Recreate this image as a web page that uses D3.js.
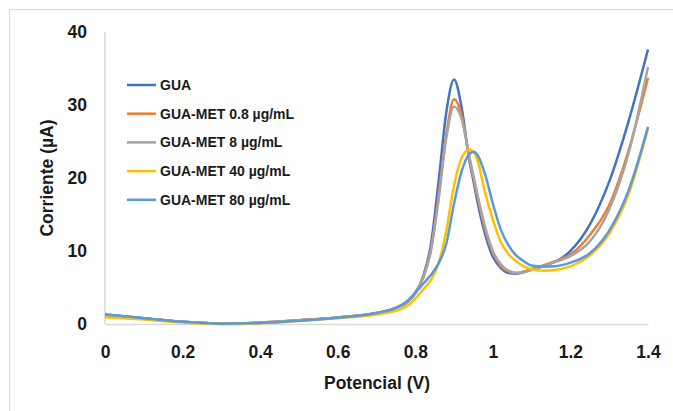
<!DOCTYPE html>
<html>
<head>
<meta charset="utf-8">
<script src="https://cdn.jsdelivr.net/npm/d3@7"></script>
<style>
  body { margin: 0; background: #fff; }
  text { font-family: "Liberation Sans", Arial, sans-serif; font-weight: bold; fill: #1a1a1a; }
</style>
</head>
<body>
<div id="container"></div>
<script>
var width = 673,
    height = 411;

// potential (V)
var potential = [0, 0.1, 0.2, 0.3, 0.4, 0.5, 0.6, 0.7, 0.75, 0.78, 0.8, 0.82, 0.84, 0.86, 0.88, 0.9,
  0.92, 0.94, 0.95, 0.96, 0.98, 1.0, 1.02, 1.04, 1.06, 1.08, 1.1, 1.13, 1.16, 1.2, 1.25, 1.3, 1.35, 1.4];

// current (uA) per series
var gua = [1.3, 0.8, 0.3, 0.05, 0.15, 0.5, 0.9, 1.5, 2.2, 3.0, 4.2, 6.5, 10.8, 19.5, 29.0, 33.5,
  29.5, 22.2, 19.6, 16.8, 12.3, 9.2, 7.7, 7.0, 6.9, 7.1, 7.5, 8.0, 8.5, 10.0, 13.6, 19.5, 27.8, 37.6];
var met08 = [1.2, 0.8, 0.3, 0.05, 0.2, 0.5, 0.9, 1.5, 2.2, 3.0, 4.3, 6.3, 10.0, 17.5, 26.0, 30.8,
  28.5, 22.5, 20.0, 17.5, 13.0, 9.8, 8.0, 7.2, 7.0, 7.2, 7.5, 8.0, 8.6, 9.5, 12.2, 16.3, 23.8, 33.7];
var met8 = [1.2, 0.8, 0.3, 0.05, 0.2, 0.5, 0.9, 1.5, 2.2, 3.0, 4.3, 6.3, 10.0, 17.0, 25.5, 29.8,
  28.0, 22.8, 20.3, 17.8, 13.3, 10.0, 8.2, 7.3, 7.0, 7.1, 7.4, 7.9, 8.5, 9.3, 11.3, 15.7, 23.4, 35.2];
var met40 = [0.9, 0.6, 0.2, 0.0, 0.1, 0.4, 0.8, 1.3, 1.8, 2.5, 3.5, 4.7, 6.0, 8.3, 12.8, 19.0,
  22.8, 23.9, 23.6, 22.5, 18.0, 14.3, 11.3, 9.6, 8.6, 7.9, 7.5, 7.3, 7.4, 7.9, 9.4, 12.4, 17.8, 26.8];
var met80 = [1.3, 0.8, 0.3, 0.05, 0.15, 0.45, 0.85, 1.5, 2.2, 3.2, 4.3, 5.5, 6.7, 8.3, 11.0, 16.5,
  21.0, 23.3, 23.6, 23.2, 20.5, 16.5, 13.0, 10.8, 9.4, 8.6, 8.0, 7.85, 7.9, 8.4, 9.7, 12.8, 18.3, 27.0];

var seriesNames = ["GUA", "GUA-MET 0.8 µg/mL", "GUA-MET 8 µg/mL", "GUA-MET 40 µg/mL", "GUA-MET 80 µg/mL"];
var seriesValues = [gua, met08, met8, met40, met80];
var colors = ["#4472C4", "#ED7D31", "#A5A5A5", "#FFC000", "#5B9BD5"];

var xTicks = [0, 0.2, 0.4, 0.6, 0.8, 1, 1.2, 1.4];
var yTicks = [0, 10, 20, 30, 40];

var svg = d3.select('#container').append('svg')
    .attr("width", width)
    .attr("height", height);

// outer frame
svg.append("rect")
    .attr("x", 9.5).attr("y", 9.5)
    .attr("width", 700).attr("height", 450)
    .style("fill", "none")
    .style("stroke", "#d9d9d9");

var x = d3.scaleLinear().domain([0, 1.4]).range([105, 648]);
var y = d3.scaleLinear().domain([0, 40]).range([324, 32]);

// axis lines
svg.append("line")
    .attr("x1", x(0)).attr("x2", x(0))
    .attr("y1", y(40)).attr("y2", y(0))
    .style("stroke", "#d9d9d9").style("stroke-width", 1.5);

var xAxis = svg.append("g")
    .attr("transform", "translate(0," + y(0) + ")")
    .call(d3.axisBottom(x).tickValues(xTicks).tickSize(0).tickPadding(22)
      .tickFormat(function(d) { return String(d); }));
xAxis.select(".domain").style("stroke", "#d9d9d9").style("stroke-width", 1.5);
xAxis.selectAll("text").style("font-size", "17.5px");

var yAxis = svg.append("g")
    .attr("transform", "translate(" + 87 + ",0)")
    .call(d3.axisLeft(y).tickValues(yTicks).tickSize(0).tickPadding(0));
yAxis.select(".domain").remove();
yAxis.selectAll("text").style("font-size", "17.5px");

// titles
svg.append("text")
    .attr("x", 377).attr("y", 389)
    .attr("text-anchor", "middle")
    .style("font-size", "17.5px")
    .text("Potencial (V)");

svg.append("text")
    .attr("transform", "translate(53,178) rotate(-90)")
    .attr("text-anchor", "middle")
    .style("font-size", "17.5px")
    .text("Corriente (µA)");

// curves
var line = d3.line()
    .x(function(d) { return x(d[0]); })
    .y(function(d) { return y(d[1]); })
    .curve(d3.curveMonotoneX);

svg.selectAll(".curve")
    .data(seriesValues)
    .enter()
    .append("path")
    .attr("class", "curve")
    .attr("d", function(vals) {
      return line(vals.map(function(v, i) { return [potential[i], v]; }));
    })
    .style("fill", "none")
    .style("stroke", function(d, i) { return colors[i]; })
    .style("stroke-width", 2.5);

// legend
var legend = svg.selectAll(".legend")
    .data(seriesNames)
    .enter()
    .append("g")
    .attr("class", "legend")
    .attr("transform", function(d, i) { return "translate(127," + (85 + i * 28.7) + ")"; });

legend.append("line")
    .attr("x1", 0).attr("x2", 29)
    .style("stroke", function(d, i) { return colors[i]; })
    .style("stroke-width", 2.5);

legend.append("text")
    .attr("x", 33).attr("y", 5)
    .style("font-size", "14px")
    .text(function(d) { return d; });
</script>
</body>
</html>
